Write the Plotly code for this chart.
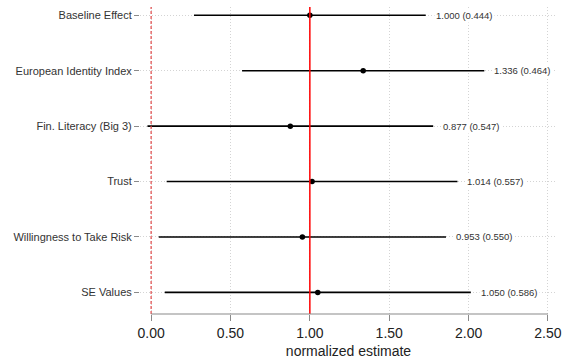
import plotly.graph_objects as go

# Coefficient plot: normalized estimates with 90% confidence intervals
labels = ["Baseline Effect", "European Identity Index", "Fin. Literacy (Big 3)",
          "Trust", "Willingness to Take Risk", "SE Values"]
estimates = [1.000, 1.336, 0.877, 1.014, 0.953, 1.050]
std_errors = [0.444, 0.464, 0.547, 0.557, 0.550, 0.586]
ci_lower = [0.270, 0.573, -0.023, 0.098, 0.048, 0.086]
ci_upper = [1.730, 2.099, 1.777, 1.930, 1.858, 2.014]
x_ticks = [0.0, 0.5, 1.0, 1.5, 2.0, 2.5]

rows = list(range(len(labels)))
font_family = "Liberation Sans, Arial, Helvetica, sans-serif"
grid_color = "#d4d4d4"
grid_dash = "1px,2px"

fig = go.Figure()

# confidence interval whiskers
for r, lo, hi in zip(rows, ci_lower, ci_upper):
    fig.add_trace(go.Scatter(x=[lo, hi], y=[r, r], mode="lines",
                             line=dict(color="black", width=1.6),
                             hoverinfo="skip", showlegend=False))

# point estimates
fig.add_trace(go.Scatter(x=estimates, y=rows, mode="markers",
                         marker=dict(color="black", size=5.5),
                         showlegend=False))

# value labels to the right of each interval
for r, hi, est, se in zip(rows, ci_upper, estimates, std_errors):
    fig.add_annotation(x=hi, y=r, text=f"{est:.3f} ({se:.3f})",
                       xanchor="left", yanchor="middle", xshift=8,
                       showarrow=False, bgcolor="white", borderpad=1,
                       font=dict(size=9.5, color="#333333", family=font_family))

# reference lines
fig.add_shape(type="line", x0=0, x1=0, y0=0, y1=1, yref="paper",
              line=dict(color="#e04848", width=1.2, dash="3px,2px"))
fig.add_shape(type="line", x0=1, x1=1, y0=0, y1=1, yref="paper",
              line=dict(color="red", width=1.5))
# x axis line spanning only the labelled range
fig.add_shape(type="line", x0=x_ticks[0], x1=x_ticks[-1], y0=0, y1=0, yref="paper",
              line=dict(color="#8a8a8a", width=1.2))

fig.update_xaxes(range=[-0.07, 2.557], tickvals=x_ticks,
                 ticktext=[f"{v:.2f}" for v in x_ticks],
                 ticks="outside", ticklen=6, tickcolor="#8a8a8a", tickwidth=1.2,
                 showline=False, zeroline=False,
                 showgrid=True, gridcolor=grid_color, griddash=grid_dash, gridwidth=1,
                 tickfont=dict(size=14, color="#222222", family=font_family),
                 title=dict(text="normalized estimate", standoff=6,
                            font=dict(size=14, color="#222222", family=font_family)))

fig.update_yaxes(range=[5.39, -0.15], tickvals=rows, ticktext=labels,
                 ticks="outside", ticklen=5, tickcolor="#8a8a8a", tickwidth=1,
                 showline=False, zeroline=False,
                 showgrid=True, gridcolor=grid_color, griddash=grid_dash, gridwidth=1,
                 tickfont=dict(size=11, color="#333333", family=font_family))

fig.update_layout(width=569, height=364,
                  margin=dict(l=140, r=12, t=7, b=47),
                  plot_bgcolor="white", paper_bgcolor="white",
                  font=dict(family=font_family))

fig.write_html("out.html")
